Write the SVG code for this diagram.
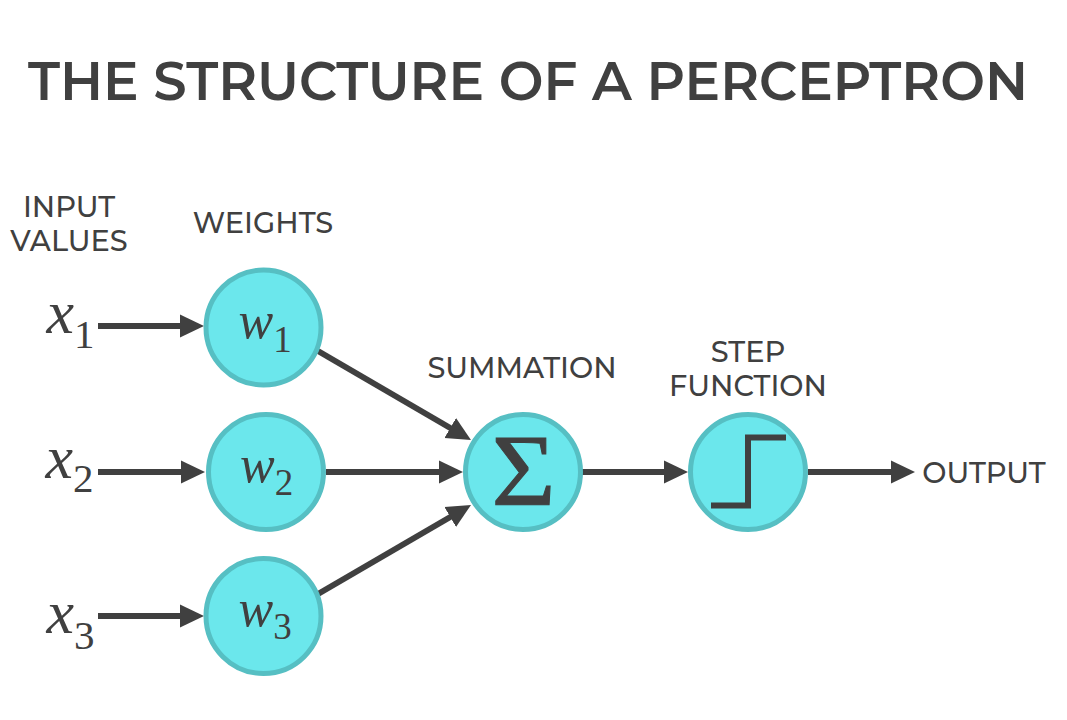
<svg xmlns="http://www.w3.org/2000/svg" width="1067" height="720" viewBox="0 0 1067 720">
<style>
.t{font-family:Montserrat,"Open Sans","Noto Sans","Liberation Sans",sans-serif;fill:#404040;font-size:28.800px;font-weight:500;text-anchor:middle}
.m{font-family:"Liberation Serif","DejaVu Serif",serif;fill:#404040;font-style:italic}
.d{font-family:"Liberation Serif","DejaVu Serif",serif;fill:#404040}
.n{fill:#6be7ec;stroke:#56bfc3;stroke-width:5}
.c{stroke:#404040;stroke-width:6;fill:none;marker-end:url(#a)}
</style>
<defs><marker id="a" markerUnits="userSpaceOnUse" markerWidth="26" markerHeight="26" refX="12" refY="13" orient="auto"><path d="M0 1.500L24 13L0 24.500Z" fill="#404040"/></marker></defs>
<rect width="1067" height="720" fill="#fff"/>
<text x="528" y="100" class="t" style="font-size:54px;font-weight:600" textLength="1000" lengthAdjust="spacingAndGlyphs">THE STRUCTURE OF A PERCEPTRON</text>
<g id="labels">
<text x="69" y="216.500" class="t">INPUT</text><text x="69" y="250.500" class="t">VALUES</text>
<text x="263" y="233" class="t">WEIGHTS</text>
<text x="522" y="378" class="t">SUMMATION</text>
<text x="748" y="361.500" class="t">STEP</text><text x="748" y="395.500" class="t">FUNCTION</text>
<text x="984" y="483" class="t">OUTPUT</text>
</g>
<g id="inputs">
<text x="46.500" y="333" class="m" font-size="62">x</text><text x="74" y="348" class="d" font-size="41">1</text>
<text x="45.500" y="478" class="m" font-size="62">x</text><text x="73" y="492" class="d" font-size="41">2</text>
<text x="46.500" y="633" class="m" font-size="62">x</text><text x="74" y="649" class="d" font-size="41">3</text>
</g>
<g id="connectors">
<path class="c" d="M98 326H192"/><path class="c" d="M98 472H193"/><path class="c" d="M98 616H192"/>
<path class="c" d="M318 351L460.600 434"/><path class="c" d="M326 472H451"/><path class="c" d="M318 594L460.600 511"/>
<path class="c" d="M582 472H676"/><path class="c" d="M808 472H903"/>
</g>
<g id="w1"><circle class="n" cx="263.500" cy="327.500" r="57.500"/><text x="238.500" y="338" class="m" font-size="52">w</text><text x="273.300" y="352" class="d" font-size="37">1</text></g>
<g id="w2"><circle class="n" cx="266" cy="472" r="57.500"/><text x="240" y="482" class="m" font-size="52">w</text><text x="274.800" y="495" class="d" font-size="37">2</text></g>
<g id="w3"><circle class="n" cx="263.500" cy="616" r="57.500"/><text x="238.500" y="625.500" class="m" font-size="52">w</text><text x="273.300" y="639" class="d" font-size="37">3</text></g>
<g id="sum"><circle class="n" cx="523" cy="472" r="57.500"/><text transform="translate(523.500 505) scale(1.080 1)" text-anchor="middle" font-family="Liberation Serif,serif" fill="#404040" stroke="#404040" stroke-width="1" font-size="102">Σ</text></g>
<g id="step"><circle class="n" cx="748" cy="472" r="57.500"/><path d="M711 505.500H748V437.500H786" fill="none" stroke="#404040" stroke-width="6"/></g>
</svg>
